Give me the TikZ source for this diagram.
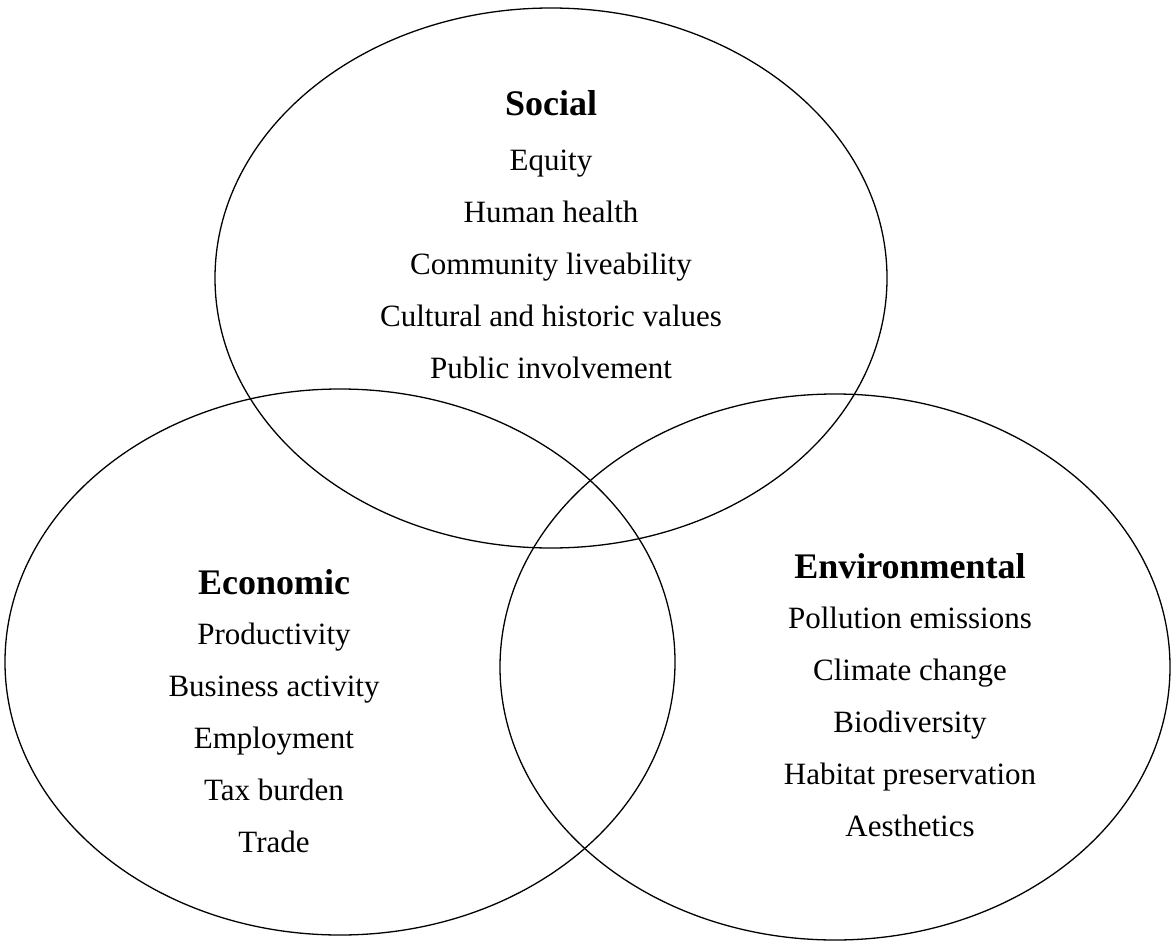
\documentclass[tikz,border=0pt]{standalone}
\usepackage{fontspec}
\setmainfont{Liberation Serif}
\usetikzlibrary{positioning}
\tikzset{
  node distance=52pt,
  circle line/.style={line width=1.3pt},
  heading/.style={font=\fontsize{36}{40}\selectfont\bfseries, inner sep=0pt, anchor=base},
  item/.style={font=\fontsize{31}{36}\selectfont, inner sep=0pt,
    text height=0.7em, text depth=0.25em},
}

\begin{document}
\begin{tikzpicture}[x=1pt, y=-1pt]
		\useasboundingbox (0,0) rectangle (1172,944);

		% circles
		\draw[circle line] (551,278) ellipse [x radius=336pt, y radius=270pt];
		\draw[circle line] (340,662) ellipse [x radius=335pt, y radius=273pt];
		\draw[circle line] (835,667) ellipse [x radius=335pt, y radius=273pt];

		% social
		\node[heading] (soc) at (551,116) {Social};
		\node[item] (soc1) at (551,168) {Equity};
		\node[item, below of=soc1] (soc2) {Human health};
		\node[item, below of=soc2] (soc3) {Community liveability};
		\node[item, below of=soc3] (soc4) {Cultural and historic values};
		\node[item, below of=soc4] (soc5) {Public involvement};

		% economic
		\node[heading] (eco) at (274,594) {Economic};
		\node[item] (eco1) at (274,642) {Productivity};
		\node[item, below of=eco1] (eco2) {Business activity};
		\node[item, below of=eco2] (eco3) {Employment};
		\node[item, below of=eco3] (eco4) {Tax burden};
		\node[item, below of=eco4] (eco5) {Trade};

		% environmental
		\node[heading] (env) at (910,578) {Environmental};
		\node[item] (env1) at (910,626) {Pollution emissions};
		\node[item, below of=env1] (env2) {Climate change};
		\node[item, below of=env2] (env3) {Biodiversity};
		\node[item, below of=env3] (env4) {Habitat preservation};
		\node[item, below of=env4] (env5) {Aesthetics};

	\end{tikzpicture}
\end{document}
